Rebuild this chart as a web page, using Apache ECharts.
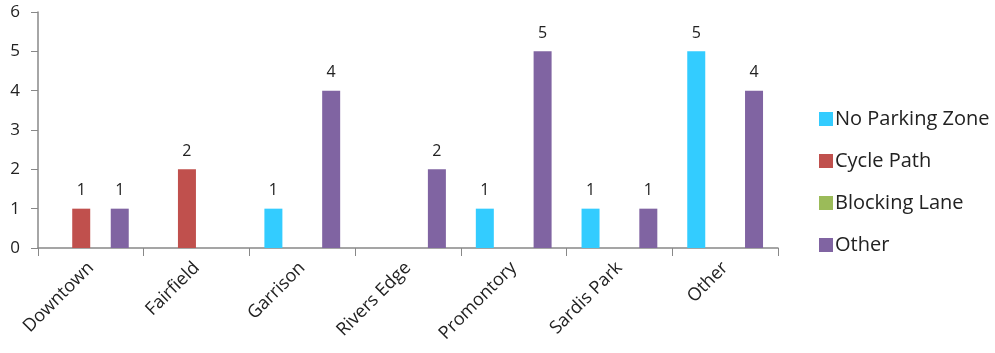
<!DOCTYPE html>
<html><head><meta charset="utf-8">
<script src="https://cdn.jsdelivr.net/npm/echarts@6/dist/echarts.min.js"></script>
<style>html,body{margin:0;padding:0;background:#fff}#c{width:995px;height:353px}</style>
</head><body><div id="c"></div>
<script>
const categories = ['Downtown','Fairfield','Garrison','Rivers Edge','Promontory','Sardis Park','Other'];
const noParkingZone = [0,0,1,0,1,1,5];
const cyclePath = [1,2,0,0,0,0,0];
const blockingLane = [0,0,0,0,0,0,0];
const other = [1,0,4,2,5,1,4];
const seriesNames = ['No Parking Zone','Cycle Path','Blocking Lane','Other'];
const colors = ['#33CCFF','#C0504D','#9BBB59','#8064A2'];
const yTicks = {min:0,max:6,interval:1};

const font = 'Open Sans';
const chart = echarts.init(document.getElementById('c'));
const mk = (name, data, color) => ({
  name, type:'bar', data, barWidth:18, barGap:'7%',
  itemStyle:{color},
  label:{show:true, position:'top', distance:10, color:'#222', fontFamily:font, fontSize:16,
    formatter:p => p.value ? String(p.value) : ''}
});
chart.setOption({
  animation:false,
  textStyle:{fontFamily:font},
  grid:{left:38,right:217,top:12,bottom:105,containLabel:false},
  legend:{orient:'vertical', left:814, top:104, itemWidth:14, itemHeight:14, itemGap:22,
    icon:'rect', textStyle:{fontFamily:font, fontSize:20, color:'#222', padding:[0,0,0,-3]}, data:seriesNames},
  xAxis:{type:'category', data:categories,
    axisLine:{lineStyle:{color:'#888',width:1.5}},
    axisTick:{show:true, length:8, alignWithLabel:false, lineStyle:{color:'#888'}},
    axisLabel:{rotate:45, margin:17, color:'#222', fontFamily:font, fontSize:18, interval:0}},
  yAxis:{type:'value', min:yTicks.min, max:yTicks.max, interval:yTicks.interval,
    splitLine:{show:false},
    axisLine:{show:true, lineStyle:{color:'#888',width:1.5}},
    axisTick:{show:true, length:7, lineStyle:{color:'#888'}},
    axisLabel:{margin:18, color:'#222', fontFamily:font, fontSize:17}},
  series:[
    mk(seriesNames[0], noParkingZone, colors[0]),
    mk(seriesNames[1], cyclePath, colors[1]),
    mk(seriesNames[2], blockingLane, colors[2]),
    mk(seriesNames[3], other, colors[3])
  ]
});
</script></body></html>
